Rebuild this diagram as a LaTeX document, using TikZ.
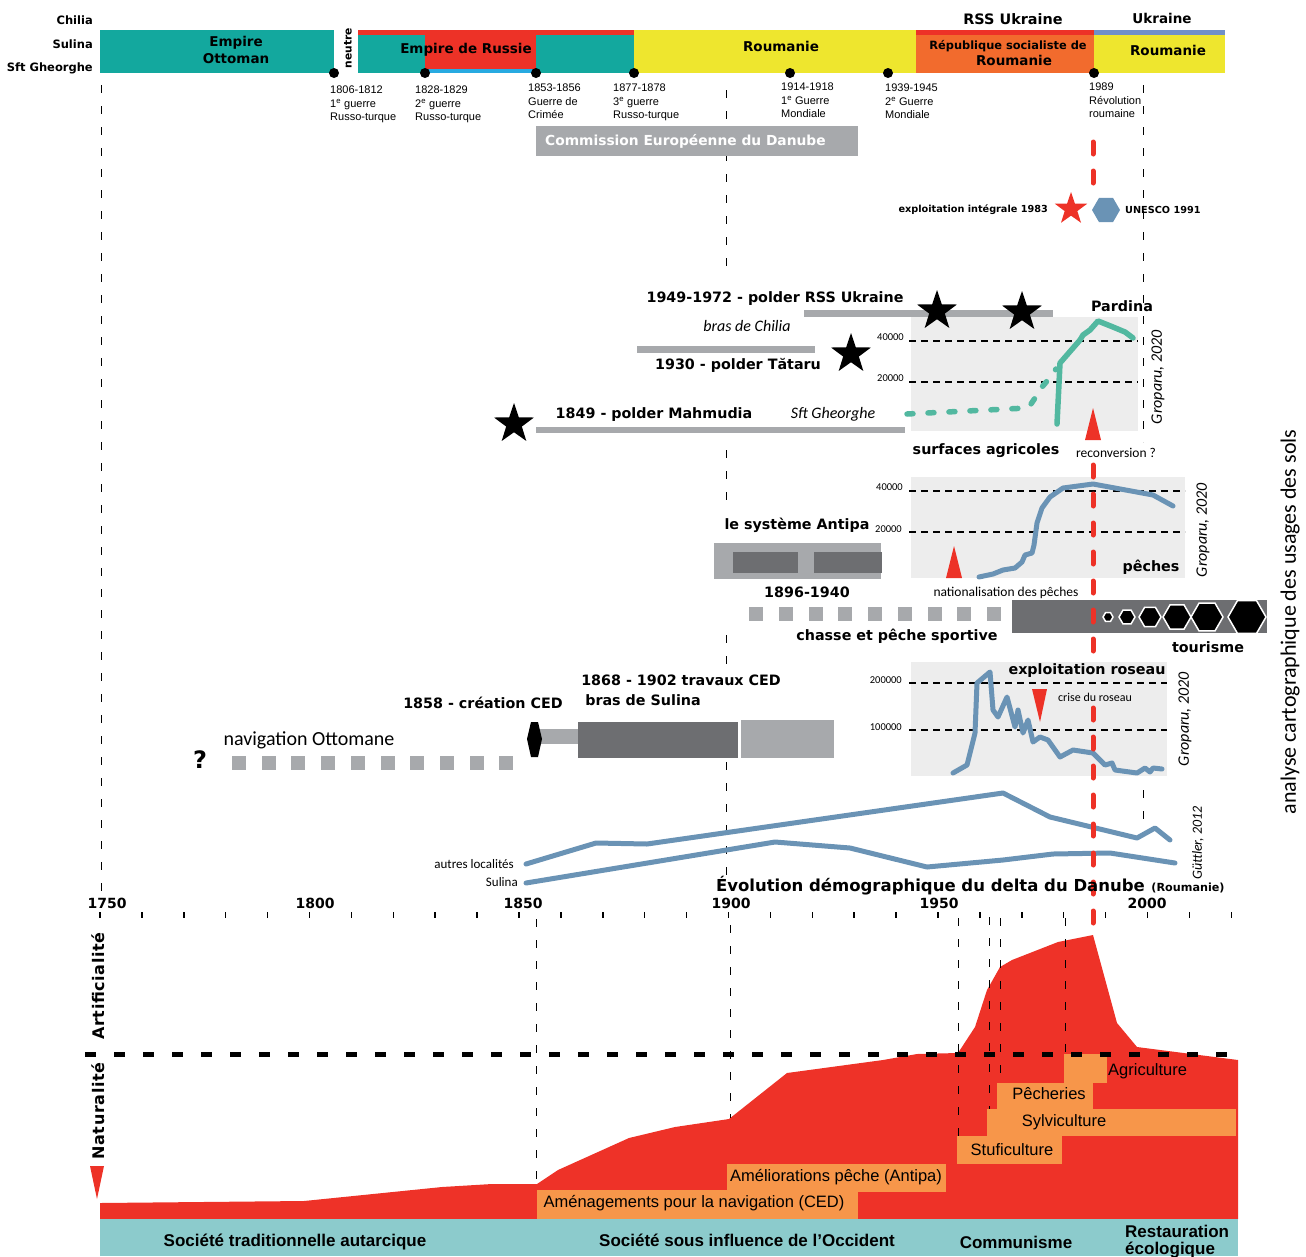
\documentclass[tikz,border=0pt]{standalone}
\usepackage{fontspec}
\setmainfont{Liberation Sans}
\newfontfamily\heavyfont{DejaVu Sans}
\newfontfamily\myriad{Carlito}
\usetikzlibrary{shapes.geometric}
\newcommand{\fsz}[1]{\fontsize{#1}{#1}\selectfont}
\definecolor{ottoteal}{RGB}{19,168,158}
\definecolor{russred}{RGB}{237,50,39}
\definecolor{russblue}{RGB}{39,170,225}
\definecolor{roumyellow}{RGB}{238,230,46}
\definecolor{rsrorange}{RGB}{242,107,45}
\definecolor{ukrblue}{RGB}{112,144,200}
\definecolor{lightgrey}{RGB}{167,169,172}
\definecolor{darkgrey}{RGB}{109,110,113}
\definecolor{chartbg}{RGB}{237,237,237}
\definecolor{curvegreen}{RGB}{82,184,160}
\definecolor{curveblue}{RGB}{106,147,181}
\definecolor{boxorange}{RGB}{247,150,74}
\definecolor{bandteal}{RGB}{140,203,204}
\definecolor{areared}{RGB}{238,50,40}
\tikzset{
  hd/.style={font=\heavyfont\bfseries\fsz{14.3}, inner sep=0pt},
  barlab/.style={font=\heavyfont\bfseries\fsz{13.5}, inner sep=0pt},
  rowlab/.style={font=\heavyfont\bfseries\fsz{11.5}, inner sep=0pt, anchor=east},
  evt/.style={font=\fontsize{11}{13.5}\selectfont, align=left, inner sep=0pt, anchor=north west},
  smallhd/.style={font=\heavyfont\bfseries\fsz{9.7}, inner sep=0pt},
  soft/.style={font=\myriad\fsz{13.5}, inner sep=0pt},
  softit/.style={font=\myriad\itshape\fsz{16}, inner sep=0pt},
  axlab/.style={font=\myriad\fsz{10.5}, inner sep=0pt, anchor=east},
  chartdash/.style={line width=1.5pt, dash pattern=on 7pt off 5pt},
  guide/.style={line width=1pt, dash pattern=on 8pt off 13pt},
  curve/.style={line width=5pt, curveblue, line join=round, line cap=round},
  redline/.style={line width=5pt, russred, dash pattern=on 12pt off 17pt, line cap=round},
  polderstar/.style={star, star points=5, star point ratio=2.55, fill=black, minimum size=42pt, inner sep=0pt},
  hexa/.style={regular polygon, regular polygon sides=6, inner sep=0pt},
  pad/.style={fill=lightgrey, minimum size=14pt, inner sep=0pt},
  sector/.style={font=\fsz{16.5}, inner sep=0pt},
  band/.style={font=\bfseries\fsz{17}, inner sep=0pt},
  yearlab/.style={font=\heavyfont\bfseries\fsz{14}, inner sep=0pt},
}
\begin{document}
\begin{tikzpicture}[x=1pt,y=-1pt]
\useasboundingbox (0,0) rectangle (1306,1256);

\draw[guide] (101,85) -- (101,895);
\draw[guide] (726,90) -- (726,277);
\draw[guide] (726,450) -- (726,506);
\draw[guide] (726,635) -- (726,668);
\draw[guide] (726,762) -- (726,880);
\draw[guide] (1143,85) -- (1143,442);
\draw[guide] (1143,790) -- (1143,832);

\node[rowlab] (chilia) at (93,20) {Chilia};
\node[rowlab] (sulina) at (93,44) {Sulina};
\node[rowlab] (sftg) at (93,68) {Sft Gheorghe};

\fill[ottoteal] (100,30) rectangle (334,73);
\fill[russred] (358,30) rectangle (634,35);
\fill[ottoteal] (358,35) rectangle (425,73);
\fill[russred] (425,35) rectangle (536,69);
\fill[russblue] (425,69) rectangle (536,73);
\fill[ottoteal] (536,35) rectangle (634,73);
\fill[roumyellow] (634,30) rectangle (916,73);
\fill[russred] (916,30) rectangle (1094,35);
\fill[rsrorange] (916,35) rectangle (1094,73);
\fill[ukrblue] (1094,30) rectangle (1225,35);
\fill[roumyellow] (1094,35) rectangle (1225,73);

\node[barlab, align=center, font=\heavyfont\bfseries\fontsize{13.5}{17}\selectfont] (ottoman) at (236,50) {Empire\\Ottoman};
\node[barlab, rotate=90, font=\heavyfont\bfseries\fsz{10.7}] (neutre) at (348,48) {neutre};
\node[barlab] (russie) at (466,50) {Empire de Russie};
\node[barlab] (roum1) at (781,46) {Roumanie};
\node[barlab, font=\heavyfont\bfseries\fsz{14.4}] (rssukr) at (1013,19) {RSS Ukraine};
\node[barlab, font=\heavyfont\bfseries\fsz{11.4}] (rsr) at (1008,46) {République socialiste de};
\node[barlab] (roum2) at (1014,60) {Roumanie};
\node[barlab] (ukr) at (1162,18) {Ukraine};
\node[barlab] (roum3) at (1168,50) {Roumanie};

\foreach \x in {334,425,536,634,790,888,1094}
  \fill (\x,73) circle (5);

\node[evt] (ev1806) at (330,86) {1806-1812\\1\textsuperscript{e} guerre\\Russo-turque};
\node[evt] (ev1828) at (415,86) {1828-1829\\2\textsuperscript{e} guerre\\Russo-turque};
\node[evt] (ev1853) at (528,84) {1853-1856\\Guerre de\\Crimée};
\node[evt] (ev1877) at (613,84) {1877-1878\\3\textsuperscript{e} guerre\\Russo-turque};
\node[evt] (ev1914) at (781,83) {1914-1918\\1\textsuperscript{e} Guerre\\Mondiale};
\node[evt] (ev1939) at (885,84) {1939-1945\\2\textsuperscript{e} Guerre\\Mondiale};
\node[evt] (ev1989) at (1089,83) {1989\\Révolution\\roumaine};

\fill[lightgrey] (536,126) rectangle (858,156);
\node[barlab, anchor=west, text=white, font=\heavyfont\bfseries\fsz{13.8}] (ced) at (545,141) {Commission Européenne du Danube};

\node[smallhd, anchor=east] (integr) at (1048,210) {exploitation intégrale 1983};
\node[polderstar, fill=russred, minimum size=34pt] (redstar) at (1071,209) {};
\node[hexa, fill=curveblue, minimum size=28pt] (unesco) at (1106,210) {};
\node[smallhd, anchor=west] (unescolab) at (1125,210) {UNESCO 1991};

\fill[chartbg] (911,317) rectangle (1138,431);
\draw[chartdash] (909,341) -- (1138,341);
\draw[chartdash] (909,382) -- (1138,382);
\node[axlab] (pa40) at (904,337) {40000};
\node[axlab] (pa20) at (904,378) {20000};
\draw[curve, curvegreen, line width=5.5pt, dash pattern=on 6pt off 15pt] (907,414) -- (1027,408) -- (1031,404) -- (1037,395) -- (1042,387) -- (1052,375) -- (1056,369);
\draw[curve, curvegreen, line width=5.5pt] (1057,424) -- (1060,363) -- (1080,340) -- (1083,335) -- (1090,330) -- (1098,321) -- (1113,327) -- (1125,332) -- (1133,338);
\node[hd] (pardina) at (1122,306) {Pardina};
\node[softit, rotate=90] (gropA) at (1158,377) {Groparu, 2020};
\fill[russred] (1093,408) -- (1101,440) -- (1085,440) -- cycle;
\node[hd] (surfaces) at (986,451) {surfaces agricoles};
\node[soft] (reconv) at (1116,453) {reconversion ?};

\fill[lightgrey] (804,310) rectangle (1053,317);
\fill[lightgrey] (637,346) rectangle (815,353);
\fill[lightgrey] (536,427) rectangle (905,433);
\node[hd] (polderukr) at (775,299) {1949-1972 - polder RSS Ukraine};
\node[softit] (chilia2) at (747,326) {bras de Chilia};
\node[hd] (tataru) at (738,365) {1930 - polder Tătaru};
\node[hd] (mahmudia) at (654,415) {1849 - polder Mahmudia};
\node[softit] (sftg2) at (833,414) {Sft Gheorghe};
\node[polderstar] (starA) at (937,311) {};
\node[polderstar] (starB) at (1022,312) {};
\node[polderstar] (starC) at (851,354) {};
\node[polderstar] (starD) at (514,424) {};

\fill[chartbg] (911,477) rectangle (1185,578);
\draw[chartdash] (909,491) -- (1185,491);
\draw[chartdash] (909,532) -- (1185,532);
\node[axlab] (pe40) at (903,487) {40000};
\node[axlab] (pe20) at (902,529) {20000};
\draw[curve] (979,577) -- (993,574) -- (1003,570) -- (1015,568) -- (1022,562) -- (1025,555) -- (1032,553) -- (1034,545) -- (1037,523) -- (1042,508) -- (1050,497) -- (1063,488) -- (1093,484) -- (1153,495) -- (1173,506);
\fill[russred] (954,546) -- (962,578) -- (946,578) -- cycle;
\node[hd] (peches) at (1151,567) {pêches};
\node[softit, rotate=90] (gropB) at (1203,530) {Groparu, 2020};
\node[soft] (nation) at (1006,593) {nationalisation des pêches};

\node[hd] (antipa) at (797,525) {le système Antipa};
\fill[lightgrey] (714,543) rectangle (881,579);
\fill[darkgrey] (733,552) rectangle (798,573);
\fill[darkgrey] (814,552) rectangle (882,573);
\node[hd] (antipadate) at (807,592) {1896-1940};

\foreach \k in {0,...,8}
  \node[pad] (chasse\k) at ({756+29.75*\k},614) {};
\node[hd] (chasse) at (897,636) {chasse et pêche sportive};

\fill[darkgrey] (1012,600) rectangle (1267,633);
\draw[redline] (1093,142) -- (1093,188);
\draw[redline] (1093,465) -- (1093,655);
\foreach \x/\r [count=\i] in {1108/5,1127/8,1150/11,1177/14,1207/16,1247/19}
  \node[hexa, fill=black, draw=white, line width=1.5pt, minimum size=2*\r] (hex\i) at (\x,617) {};
\node[hd] (tourisme) at (1208,647) {tourisme};

\fill[chartbg] (911,662) rectangle (1167,776);
\draw[chartdash] (909,683) -- (1167,683);
\draw[chartdash] (909,730) -- (1167,730);
\node[axlab] (ro200) at (902,680) {200000};
\node[axlab] (ro100) at (902,727) {100000};
\draw[curve] (953,773) -- (967,765) -- (975,733) -- (977,683) -- (990,672) -- (993,710) -- (998,717) -- (1007,697) -- (1015,727) -- (1018,710) -- (1023,733) -- (1028,720) -- (1033,742) -- (1040,737) -- (1048,740) -- (1060,757) -- (1073,750) -- (1093,753) -- (1105,765) -- (1112,763) -- (1115,770) -- (1137,773) -- (1145,768) -- (1150,772) -- (1153,768) -- (1162,769);
\node[hd] (roseau) at (1087,671) {exploitation roseau};
\fill[russred] (1032,689) -- (1047,689) -- (1040,722) -- cycle;
\node[soft, font=\myriad\fsz{12}] (crise) at (1095,697) {crise du roseau};
\node[softit, rotate=90] (gropC) at (1185,719) {Groparu, 2020};

\node[hd] (creation) at (483,703) {1858 - création CED};
\node[hd] (travaux) at (681,680) {1868 - 1902 travaux CED};
\node[hd] (brasSul) at (643,700) {bras de Sulina};
\fill[lightgrey] (540,729) rectangle (578,744);
\fill[darkgrey] (578,722) rectangle (738,758);
\fill[lightgrey] (741,720) rectangle (834,758);
\fill (527,739) -- (531,722) -- (538,722) -- (542,739) -- (538,757) -- (531,757) -- cycle;
\node[soft, font=\myriad\fsz{20}] (navott) at (309,740) {navigation Ottomane};
\node[hd, font=\heavyfont\bfseries\fsz{24}] (quest) at (200,760) {?};
\foreach \k in {0,...,9}
  \node[pad] (nav\k) at ({239+29.7*\k},763) {};

\draw[curve] (526,864) -- (596,843) -- (647,844) -- (1003,793) -- (1050,817) -- (1137,838) -- (1155,828) -- (1170,840);
\draw[curve] (526,883) -- (775,842) -- (850,848) -- (927,867) -- (1003,860) -- (1053,854) -- (1110,853) -- (1175,863);
\draw[redline] (1093,708) -- (1093,928);
\node[soft, font=\myriad\fsz{13}, anchor=east] (autres) at (514,864) {autres localités};
\node[soft, font=\myriad\fsz{13}, anchor=east] (sulina2) at (518,882) {Sulina};
\node[hd, font=\heavyfont\bfseries\fsz{16.5}, anchor=east] (demo) at (1145,886) {Évolution démographique du delta du Danube};
\node[hd, font=\heavyfont\bfseries\fsz{11.2}] (roumdemo) at (1188,888) {(Roumanie)};
\node[softit, rotate=90, font=\myriad\itshape\fsz{14}] (guttler) at (1198,843) {Güttler, 2012};

\foreach \yr [count=\k from 0] in {1750,1800,1850,1900,1950,2000}
  \node[yearlab] (yr\yr) at ({107+208*\k},903) {\yr};
\foreach \k in {0,...,27}
  \draw[line width=1.5pt] ({100+41.9*\k},912) -- ++(0,6);

\fill[areared] (100,1203) -- (304,1201) -- (442,1187) -- (492,1184) -- (537,1184) -- (558,1170) -- (629,1138) -- (675,1127) -- (729,1119) -- (787,1073) -- (883,1060) -- (917,1054) -- (958,1053) -- (975,1027) -- (987,990) -- (1000,967) -- (1012,960) -- (1058,942) -- (1093,935) -- (1117,1023) -- (1137,1047) -- (1238,1060) -- (1238,1219) -- (100,1219) -- cycle;
\draw[guide] (536,919) -- (536,1184);
\draw[guide] (730,925) -- (730,1118);
\draw[guide] (958,918) -- (958,1136);
\draw[guide] (989,917) -- (989,1109);
\draw[guide] (1000,918) -- (1000,1083);
\draw[guide] (1065,918) -- (1065,1054);

\fill[boxorange] (537,1190) rectangle (858,1219);
\fill[boxorange] (727,1164) rectangle (946,1192);
\fill[boxorange] (957,1136) rectangle (1062,1164);
\fill[boxorange] (987,1109) rectangle (1236,1136);
\fill[boxorange] (997,1083) rectangle (1093,1109);
\fill[boxorange] (1064,1054) rectangle (1107,1083);
\node[sector] (amenag) at (694,1203) {Aménagements pour la navigation (CED)};
\node[sector] (amelio) at (836,1177) {Améliorations pêche (Antipa)};
\node[sector] (stufi) at (1012,1150) {Stuficulture};
\node[sector] (sylvi) at (1064,1122) {Sylviculture};
\node[sector] (pecher) at (1049,1094) {Pêcheries};
\node[sector, anchor=west] (agri) at (1108,1071) {Agriculture};

\draw[line width=5pt, dash pattern=on 11pt off 18pt] (85,1054) -- (1242,1054);
\node[hd, rotate=90, font=\heavyfont\bfseries\addfontfeature{LetterSpace=4}\fsz{16}] (artif) at (98,986) {Artificialité};
\node[hd, rotate=90, font=\heavyfont\bfseries\addfontfeature{LetterSpace=4}\fsz{16}] (natur) at (98,1111) {Naturalité};
\fill[russred] (90,1166) -- (104,1166) -- (97,1199) -- cycle;

\fill[bandteal] (100,1219) rectangle (1238,1256);
\node[band] (autarc) at (295,1242) {Société traditionnelle autarcique};
\node[band] (occid) at (747,1240) {Société sous influence de l’Occident};
\node[band] (commun) at (1016,1242) {Communisme};
\node[band, align=left, anchor=north west, font=\bfseries\fontsize{17}{17}\selectfont] (restau) at (1125,1225) {Restauration\\écologique};

\node[soft, rotate=90, font=\myriad\fsz{22}] (analyse) at (1290,622) {analyse cartographique des usages des sols};
\end{tikzpicture}
\end{document}
